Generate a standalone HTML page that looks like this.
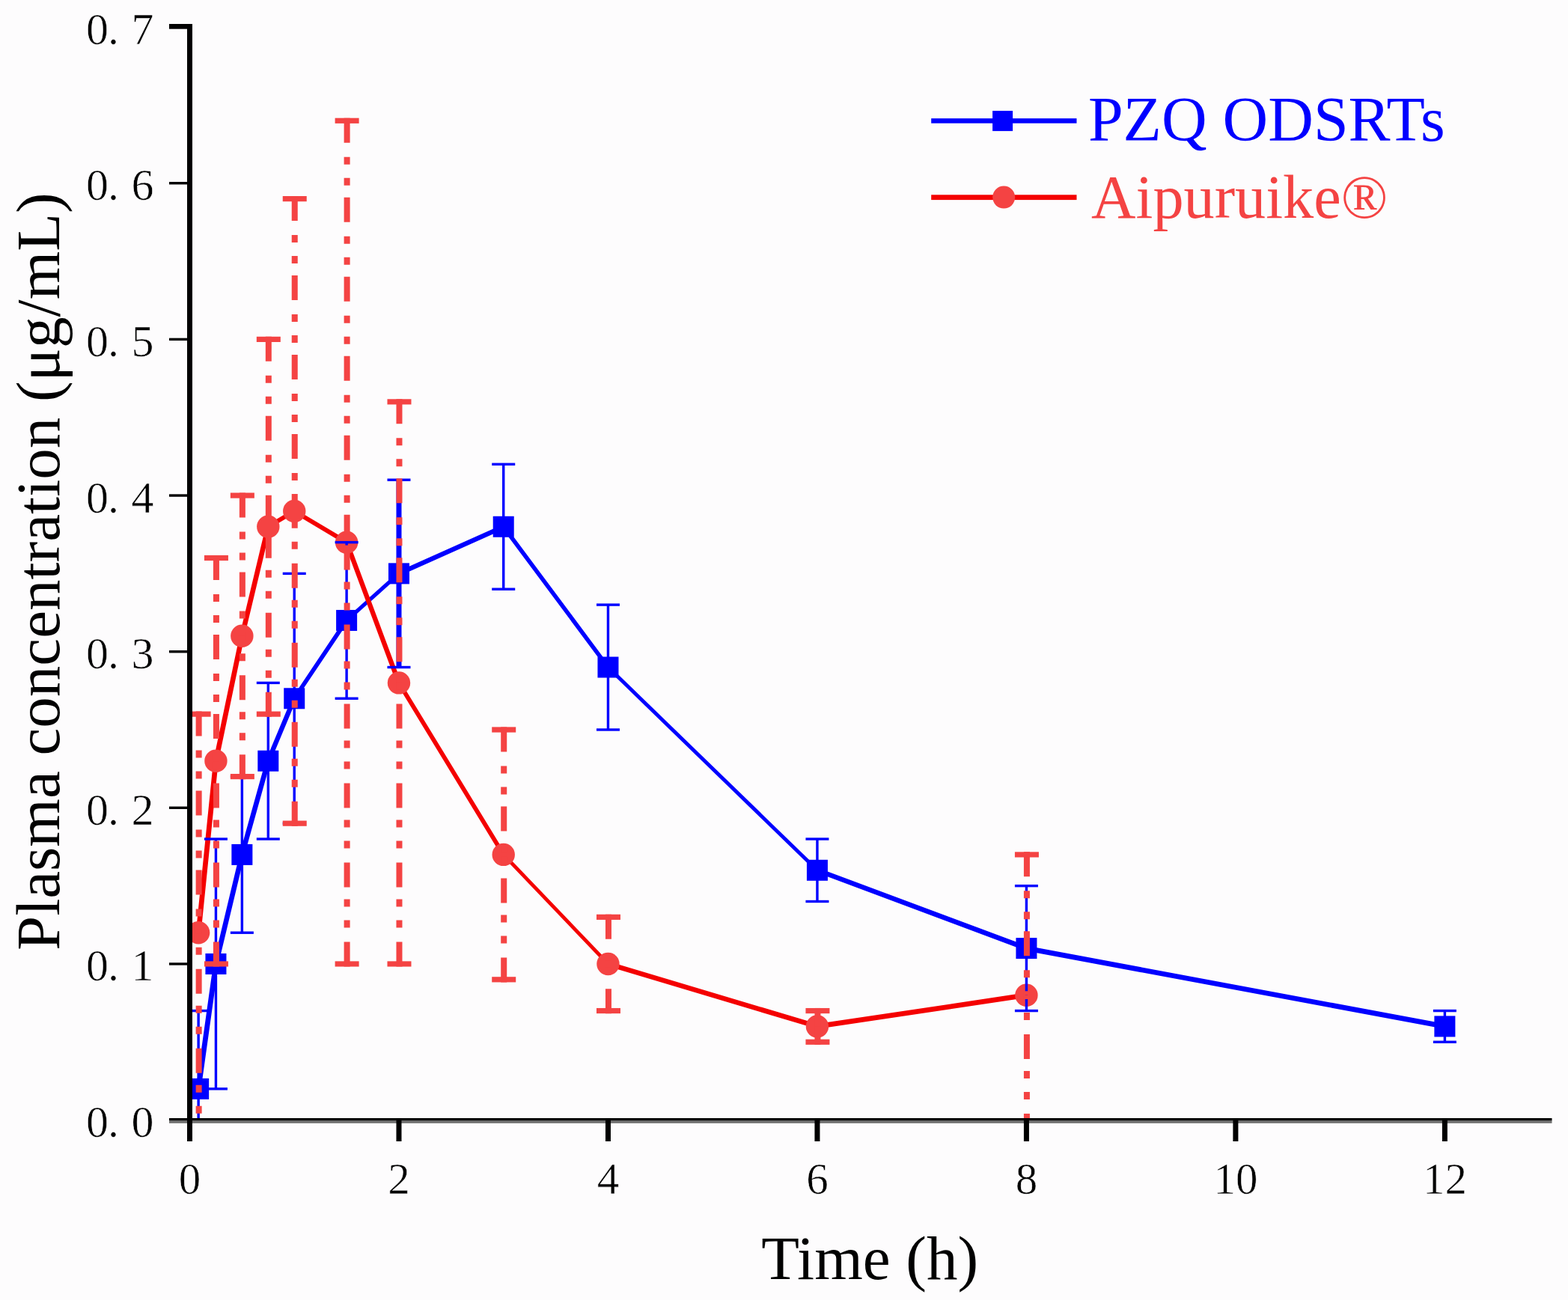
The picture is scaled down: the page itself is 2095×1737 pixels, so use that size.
<!DOCTYPE html>
<html><head><meta charset="utf-8"><title>Plasma concentration</title>
<style>
html,body{margin:0;padding:0;background:#fdfcfd;}
svg{display:block;}
</style></head>
<body>
<svg width="2095" height="1737" viewBox="0 0 2095 1737">
<defs><clipPath id="plot"><rect x="250" y="0" width="1845" height="1497"/></clipPath></defs>
<rect width="2095" height="1737" fill="#fdfcfd"/>
<g clip-path="url(#plot)">
<line x1="265.14" y1="1454.87" x2="288.44" y2="1287.96" stroke="#0000ff" stroke-width="6.83" stroke-linecap="round"/>
<line x1="288.44" y1="1287.96" x2="323.37" y2="1141.91" stroke="#0000ff" stroke-width="6.71" stroke-linecap="round"/>
<line x1="323.37" y1="1141.91" x2="358.31" y2="1016.73" stroke="#0000ff" stroke-width="6.65" stroke-linecap="round"/>
<line x1="358.31" y1="1016.73" x2="393.24" y2="933.27" stroke="#0000ff" stroke-width="6.36" stroke-linecap="round"/>
<line x1="393.24" y1="933.27" x2="463.11" y2="828.95" stroke="#0000ff" stroke-width="5.73" stroke-linecap="round"/>
<line x1="463.11" y1="828.95" x2="532.98" y2="766.36" stroke="#0000ff" stroke-width="5.14" stroke-linecap="round"/>
<line x1="532.98" y1="766.36" x2="672.72" y2="703.77" stroke="#0000ff" stroke-width="6.3" stroke-linecap="round"/>
<line x1="672.72" y1="703.77" x2="812.46" y2="891.54" stroke="#0000ff" stroke-width="5.54" stroke-linecap="round"/>
<line x1="812.46" y1="891.54" x2="1091.94" y2="1162.78" stroke="#0000ff" stroke-width="4.95" stroke-linecap="round"/>
<line x1="1091.94" y1="1162.78" x2="1371.42" y2="1267.1" stroke="#0000ff" stroke-width="6.46" stroke-linecap="round"/>
<line x1="1371.42" y1="1267.1" x2="1930.38" y2="1371.42" stroke="#0000ff" stroke-width="6.78" stroke-linecap="round"/>
<rect x="251.14" y="1440.87" width="28" height="28" fill="#0000ff"/>
<rect x="274.44" y="1273.96" width="28" height="28" fill="#0000ff"/>
<rect x="309.37" y="1127.91" width="28" height="28" fill="#0000ff"/>
<rect x="344.31" y="1002.73" width="28" height="28" fill="#0000ff"/>
<rect x="379.24" y="919.27" width="28" height="28" fill="#0000ff"/>
<rect x="449.11" y="814.95" width="28" height="28" fill="#0000ff"/>
<rect x="518.98" y="752.36" width="28" height="28" fill="#0000ff"/>
<rect x="658.72" y="689.77" width="28" height="28" fill="#0000ff"/>
<rect x="798.46" y="877.54" width="28" height="28" fill="#0000ff"/>
<rect x="1077.94" y="1148.78" width="28" height="28" fill="#0000ff"/>
<rect x="1357.42" y="1253.1" width="28" height="28" fill="#0000ff"/>
<rect x="1916.38" y="1357.42" width="28" height="28" fill="#0000ff"/>
<line x1="265.14" y1="1246.23" x2="288.44" y2="1016.73" stroke="#f40000" stroke-width="6.77" stroke-linecap="round"/>
<line x1="288.44" y1="1016.73" x2="323.37" y2="849.82" stroke="#f40000" stroke-width="6.66" stroke-linecap="round"/>
<line x1="323.37" y1="849.82" x2="358.31" y2="703.77" stroke="#f40000" stroke-width="6.61" stroke-linecap="round"/>
<line x1="358.31" y1="703.77" x2="393.24" y2="682.9" stroke="#f40000" stroke-width="5.84" stroke-linecap="round"/>
<line x1="393.24" y1="682.9" x2="463.11" y2="724.63" stroke="#f40000" stroke-width="5.84" stroke-linecap="round"/>
<line x1="463.11" y1="724.63" x2="532.98" y2="912.41" stroke="#f40000" stroke-width="6.37" stroke-linecap="round"/>
<line x1="532.98" y1="912.41" x2="672.72" y2="1141.91" stroke="#f40000" stroke-width="5.81" stroke-linecap="round"/>
<line x1="672.72" y1="1141.91" x2="812.46" y2="1287.96" stroke="#f40000" stroke-width="4.91" stroke-linecap="round"/>
<line x1="812.46" y1="1287.96" x2="1091.94" y2="1371.42" stroke="#f40000" stroke-width="6.52" stroke-linecap="round"/>
<line x1="1091.94" y1="1371.42" x2="1371.42" y2="1329.69" stroke="#f40000" stroke-width="6.73" stroke-linecap="round"/>
<circle cx="265.14" cy="1246.23" r="15.2" fill="#f44343"/>
<circle cx="288.44" cy="1016.73" r="15.2" fill="#f44343"/>
<circle cx="323.37" cy="849.82" r="15.2" fill="#f44343"/>
<circle cx="358.31" cy="703.77" r="15.2" fill="#f44343"/>
<circle cx="393.24" cy="682.9" r="15.2" fill="#f44343"/>
<circle cx="463.11" cy="724.63" r="15.2" fill="#f44343"/>
<circle cx="532.98" cy="912.41" r="15.2" fill="#f44343"/>
<circle cx="672.72" cy="1141.91" r="15.2" fill="#f44343"/>
<circle cx="812.46" cy="1287.96" r="15.2" fill="#f44343"/>
<circle cx="1091.94" cy="1371.42" r="15.2" fill="#f44343"/>
<circle cx="1371.42" cy="1329.69" r="15.2" fill="#f44343"/>
<rect x="263.44" y="1350.55" width="3.4" height="208.64" fill="#0000ff"/>
<rect x="286.74" y="1121.05" width="3.4" height="333.82" fill="#0000ff"/>
<rect x="321.67" y="1037.59" width="3.4" height="208.64" fill="#0000ff"/>
<rect x="356.61" y="912.41" width="3.4" height="208.64" fill="#0000ff"/>
<rect x="391.54" y="766.36" width="3.4" height="333.82" fill="#0000ff"/>
<rect x="461.41" y="724.63" width="3.4" height="208.64" fill="#0000ff"/>
<rect x="529.48" y="641.18" width="7" height="250.37" fill="#0000ff"/>
<rect x="671.02" y="620.31" width="3.4" height="166.91" fill="#0000ff"/>
<rect x="810.76" y="808.09" width="3.4" height="166.91" fill="#0000ff"/>
<rect x="1090.24" y="1121.05" width="3.4" height="83.46" fill="#0000ff"/>
<rect x="1369.72" y="1183.64" width="3.4" height="166.91" fill="#0000ff"/>
<rect x="1928.68" y="1350.55" width="3.4" height="41.73" fill="#0000ff"/>
<rect x="249.64" y="1348.85" width="31" height="3.4" fill="#0000ff"/>
<rect x="272.94" y="1119.35" width="31" height="3.4" fill="#0000ff"/>
<rect x="272.94" y="1453.17" width="31" height="3.4" fill="#0000ff"/>
<rect x="307.87" y="1035.89" width="31" height="3.4" fill="#0000ff"/>
<rect x="307.87" y="1244.53" width="31" height="3.4" fill="#0000ff"/>
<rect x="342.81" y="910.71" width="31" height="3.4" fill="#0000ff"/>
<rect x="342.81" y="1119.35" width="31" height="3.4" fill="#0000ff"/>
<rect x="377.74" y="764.66" width="31" height="3.4" fill="#0000ff"/>
<rect x="377.74" y="1098.48" width="31" height="3.4" fill="#0000ff"/>
<rect x="447.61" y="722.93" width="31" height="3.4" fill="#0000ff"/>
<rect x="447.61" y="931.57" width="31" height="3.4" fill="#0000ff"/>
<rect x="517.48" y="639.48" width="31" height="3.4" fill="#0000ff"/>
<rect x="517.48" y="889.84" width="31" height="3.4" fill="#0000ff"/>
<rect x="657.22" y="618.61" width="31" height="3.4" fill="#0000ff"/>
<rect x="657.22" y="785.52" width="31" height="3.4" fill="#0000ff"/>
<rect x="796.96" y="806.39" width="31" height="3.4" fill="#0000ff"/>
<rect x="796.96" y="973.3" width="31" height="3.4" fill="#0000ff"/>
<rect x="1076.44" y="1119.35" width="31" height="3.4" fill="#0000ff"/>
<rect x="1076.44" y="1202.8" width="31" height="3.4" fill="#0000ff"/>
<rect x="1355.92" y="1181.94" width="31" height="3.4" fill="#0000ff"/>
<rect x="1355.92" y="1348.85" width="31" height="3.4" fill="#0000ff"/>
<rect x="1914.88" y="1348.85" width="31" height="3.4" fill="#0000ff"/>
<rect x="1914.88" y="1390.58" width="31" height="3.4" fill="#0000ff"/>
<line x1="265.64" y1="950.54" x2="265.64" y2="1246.23" stroke="#f44343" stroke-width="8" stroke-dasharray="33 19 10 18 10 16"/>
<line x1="265.64" y1="1539.84" x2="265.64" y2="1246.23" stroke="#f44343" stroke-width="8" stroke-dasharray="33 19 10 18 10 16"/>
<rect x="249.64" y="950.54" width="32" height="7.2" fill="#f44343"/>
<line x1="288.94" y1="741.9" x2="288.94" y2="1016.73" stroke="#f44343" stroke-width="8" stroke-dasharray="33 19 10 18 10 16"/>
<line x1="288.94" y1="1291.56" x2="288.94" y2="1016.73" stroke="#f44343" stroke-width="8" stroke-dasharray="33 19 10 18 10 16"/>
<rect x="272.94" y="741.9" width="32" height="7.2" fill="#f44343"/>
<rect x="272.94" y="1284.36" width="32" height="7.2" fill="#f44343"/>
<line x1="323.87" y1="658.44" x2="323.87" y2="849.82" stroke="#f44343" stroke-width="8" stroke-dasharray="33 19 10 18 10 16"/>
<line x1="323.87" y1="1041.19" x2="323.87" y2="849.82" stroke="#f44343" stroke-width="8" stroke-dasharray="33 19 10 18 10 16"/>
<rect x="307.87" y="658.44" width="32" height="7.2" fill="#f44343"/>
<rect x="307.87" y="1033.99" width="32" height="7.2" fill="#f44343"/>
<line x1="358.81" y1="449.8" x2="358.81" y2="703.77" stroke="#f44343" stroke-width="8" stroke-dasharray="33 19 10 18 10 16"/>
<line x1="358.81" y1="957.74" x2="358.81" y2="703.77" stroke="#f44343" stroke-width="8" stroke-dasharray="33 19 10 18 10 16"/>
<rect x="342.81" y="449.8" width="32" height="7.2" fill="#f44343"/>
<rect x="342.81" y="950.54" width="32" height="7.2" fill="#f44343"/>
<line x1="393.74" y1="262.02" x2="393.74" y2="682.9" stroke="#f44343" stroke-width="8" stroke-dasharray="33 19 10 18 10 16"/>
<line x1="393.74" y1="1103.78" x2="393.74" y2="682.9" stroke="#f44343" stroke-width="8" stroke-dasharray="33 19 10 18 10 16"/>
<rect x="377.74" y="262.02" width="32" height="7.2" fill="#f44343"/>
<rect x="377.74" y="1096.58" width="32" height="7.2" fill="#f44343"/>
<line x1="463.61" y1="157.7" x2="463.61" y2="724.63" stroke="#f44343" stroke-width="8" stroke-dasharray="33 19 10 18 10 16"/>
<line x1="463.61" y1="1291.56" x2="463.61" y2="724.63" stroke="#f44343" stroke-width="8" stroke-dasharray="33 19 10 18 10 16"/>
<rect x="447.61" y="157.7" width="32" height="7.2" fill="#f44343"/>
<rect x="447.61" y="1284.36" width="32" height="7.2" fill="#f44343"/>
<line x1="533.48" y1="533.26" x2="533.48" y2="912.41" stroke="#f44343" stroke-width="8" stroke-dasharray="33 19 10 18 10 16"/>
<line x1="533.48" y1="1291.56" x2="533.48" y2="912.41" stroke="#f44343" stroke-width="8" stroke-dasharray="33 19 10 18 10 16"/>
<rect x="517.48" y="533.26" width="32" height="7.2" fill="#f44343"/>
<rect x="517.48" y="1284.36" width="32" height="7.2" fill="#f44343"/>
<line x1="673.22" y1="971.4" x2="673.22" y2="1141.91" stroke="#f44343" stroke-width="8" stroke-dasharray="33 19 10 18 10 16"/>
<line x1="673.22" y1="1312.42" x2="673.22" y2="1141.91" stroke="#f44343" stroke-width="8" stroke-dasharray="33 19 10 18 10 16"/>
<rect x="657.22" y="971.4" width="32" height="7.2" fill="#f44343"/>
<rect x="657.22" y="1305.22" width="32" height="7.2" fill="#f44343"/>
<line x1="812.96" y1="1221.77" x2="812.96" y2="1287.96" stroke="#f44343" stroke-width="8" stroke-dasharray="33 19 10 18 10 16"/>
<line x1="812.96" y1="1354.15" x2="812.96" y2="1287.96" stroke="#f44343" stroke-width="8" stroke-dasharray="33 19 10 18 10 16"/>
<rect x="796.96" y="1221.77" width="32" height="7.2" fill="#f44343"/>
<rect x="796.96" y="1346.95" width="32" height="7.2" fill="#f44343"/>
<line x1="1092.44" y1="1346.95" x2="1092.44" y2="1371.42" stroke="#f44343" stroke-width="8" stroke-dasharray="33 19 10 18 10 16"/>
<line x1="1092.44" y1="1395.88" x2="1092.44" y2="1371.42" stroke="#f44343" stroke-width="8" stroke-dasharray="33 19 10 18 10 16"/>
<rect x="1076.44" y="1346.95" width="32" height="7.2" fill="#f44343"/>
<rect x="1076.44" y="1388.68" width="32" height="7.2" fill="#f44343"/>
<line x1="1371.92" y1="1138.31" x2="1371.92" y2="1329.69" stroke="#f44343" stroke-width="8" stroke-dasharray="33 19 10 18 10 16"/>
<line x1="1371.92" y1="1521.06" x2="1371.92" y2="1329.69" stroke="#f44343" stroke-width="8" stroke-dasharray="33 19 10 18 10 16"/>
<rect x="1355.92" y="1138.31" width="32" height="7.2" fill="#f44343"/>
</g>
<rect x="250" y="32" width="7" height="1493" fill="#000000"/>
<rect x="226" y="1494" width="1847.5" height="3.6" fill="#000000"/>
<rect x="226" y="1497.6" width="1847.5" height="3.2" fill="#6f6f6f"/>
<rect x="226" y="32" width="31" height="6.7" fill="#000000"/>
<rect x="226" y="1286.26" width="31" height="3.4" fill="#000000"/>
<rect x="226" y="1077.62" width="31" height="3.4" fill="#000000"/>
<rect x="226" y="868.98" width="31" height="3.4" fill="#000000"/>
<rect x="226" y="660.34" width="31" height="3.4" fill="#000000"/>
<rect x="226" y="451.7" width="31" height="3.4" fill="#000000"/>
<rect x="226" y="243.06" width="31" height="3.4" fill="#000000"/>
<rect x="529.48" y="1494" width="7" height="31" fill="#000000"/>
<rect x="808.96" y="1494" width="7" height="31" fill="#000000"/>
<rect x="1088.44" y="1494" width="7" height="31" fill="#000000"/>
<rect x="1367.92" y="1494" width="7" height="31" fill="#000000"/>
<rect x="1647.4" y="1494" width="7" height="31" fill="#000000"/>
<rect x="1926.88" y="1494" width="7" height="31" fill="#000000"/>
<rect x="250" y="1494" width="7" height="31" fill="#000000"/>
<text style="font-family:'Liberation Serif',serif;font-size:60px;fill:#000;stroke:#fdfcfd;stroke-width:0.6" x="115 144 175.5" y="1519.1">0.0</text>
<text style="font-family:'Liberation Serif',serif;font-size:60px;fill:#000;stroke:#fdfcfd;stroke-width:0.6" x="115 144 175.5" y="1310.46">0.1</text>
<text style="font-family:'Liberation Serif',serif;font-size:60px;fill:#000;stroke:#fdfcfd;stroke-width:0.6" x="115 144 175.5" y="1101.82">0.2</text>
<text style="font-family:'Liberation Serif',serif;font-size:60px;fill:#000;stroke:#fdfcfd;stroke-width:0.6" x="115 144 175.5" y="893.18">0.3</text>
<text style="font-family:'Liberation Serif',serif;font-size:60px;fill:#000;stroke:#fdfcfd;stroke-width:0.6" x="115 144 175.5" y="684.54">0.4</text>
<text style="font-family:'Liberation Serif',serif;font-size:60px;fill:#000;stroke:#fdfcfd;stroke-width:0.6" x="115 144 175.5" y="475.9">0.5</text>
<text style="font-family:'Liberation Serif',serif;font-size:60px;fill:#000;stroke:#fdfcfd;stroke-width:0.6" x="115 144 175.5" y="267.26">0.6</text>
<text style="font-family:'Liberation Serif',serif;font-size:60px;fill:#000;stroke:#fdfcfd;stroke-width:0.6" x="115 144 175.5" y="58.62">0.7</text>
<text style="font-family:'Liberation Serif',serif;font-size:59px;fill:#000;stroke:#fdfcfd;stroke-width:0.6" x="253.5" y="1595" text-anchor="middle">0</text>
<text style="font-family:'Liberation Serif',serif;font-size:59px;fill:#000;stroke:#fdfcfd;stroke-width:0.6" x="532.98" y="1595" text-anchor="middle">2</text>
<text style="font-family:'Liberation Serif',serif;font-size:59px;fill:#000;stroke:#fdfcfd;stroke-width:0.6" x="812.46" y="1595" text-anchor="middle">4</text>
<text style="font-family:'Liberation Serif',serif;font-size:59px;fill:#000;stroke:#fdfcfd;stroke-width:0.6" x="1091.94" y="1595" text-anchor="middle">6</text>
<text style="font-family:'Liberation Serif',serif;font-size:59px;fill:#000;stroke:#fdfcfd;stroke-width:0.6" x="1371.42" y="1595" text-anchor="middle">8</text>
<text style="font-family:'Liberation Serif',serif;font-size:59px;fill:#000;stroke:#fdfcfd;stroke-width:0.6" x="1650.9" y="1595" text-anchor="middle">10</text>
<text style="font-family:'Liberation Serif',serif;font-size:59px;fill:#000;stroke:#fdfcfd;stroke-width:0.6" x="1930.38" y="1595" text-anchor="middle">12</text>
<text style="font-family:'Liberation Serif',serif;font-size:83px;fill:#000" x="1017.3" y="1708.6">Time (h)</text>
<text style="font-family:'Liberation Serif',serif;font-size:83px;fill:#000" transform="translate(79.4 1270) rotate(-90)" x="0" y="0">Plasma concentration (&#956;g/mL)</text>
<rect x="1244.2" y="158.2" width="194.3" height="6.5" fill="#0000ff"/>
<rect x="1326.1" y="148.1" width="27" height="27" fill="#0000ff"/>
<text style="font-family:'Liberation Serif',serif;font-size:84px;fill:#0000ff" x="1453.9" y="188.4">PZQ ODSRTs</text>
<rect x="1244.2" y="260.3" width="194.3" height="6.8" fill="#f40000"/>
<circle cx="1341.2" cy="263.6" r="15" fill="#f44343"/>
<text style="font-family:'Liberation Serif',serif;font-size:82.3px;fill:#f44343" x="1458.1" y="290.7">Aipuruike&#174;</text>
</svg>
</body></html>
